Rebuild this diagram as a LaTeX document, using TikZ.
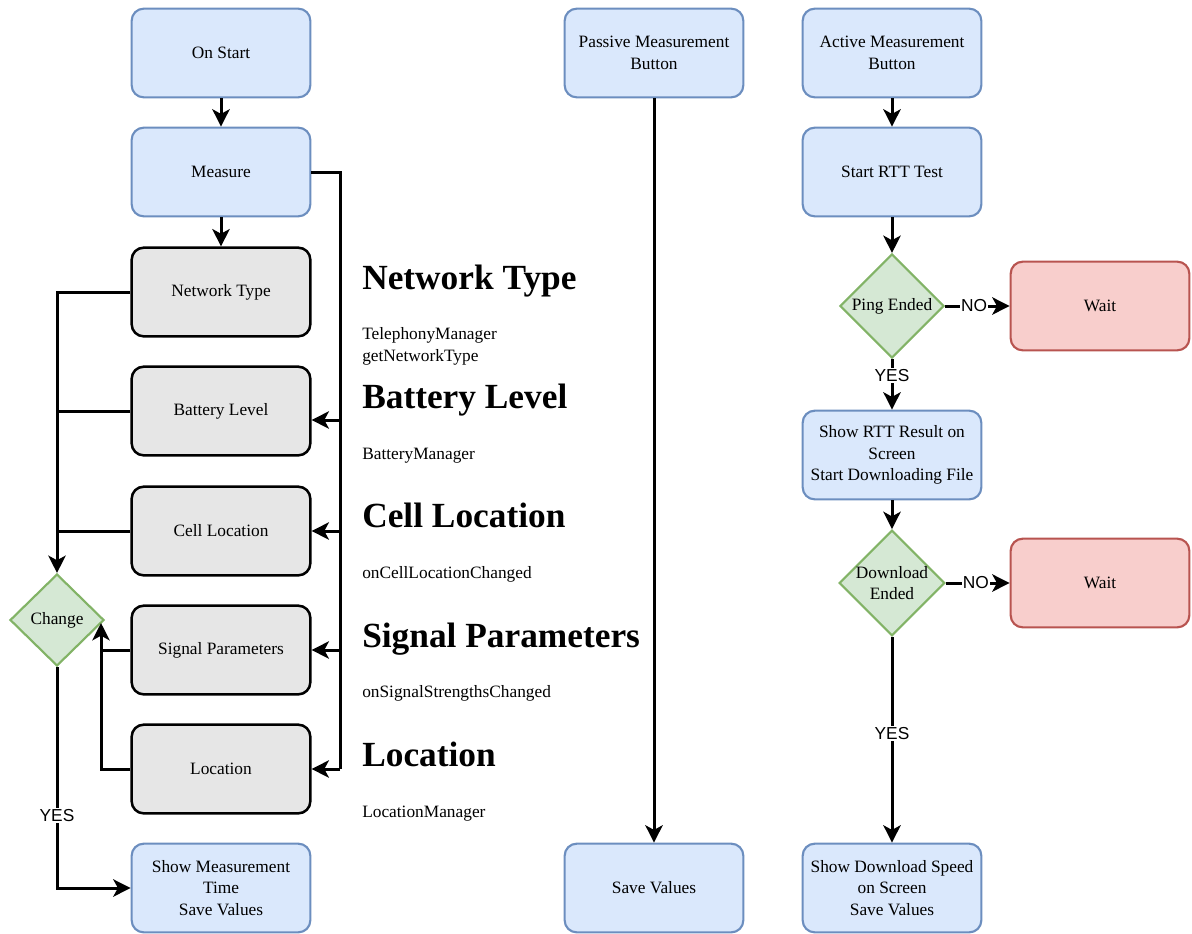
\documentclass[tikz,border=0pt]{standalone}
\usepackage{fontspec}
\setmainfont{Liberation Serif}
\newfontfamily\labfont{Liberation Sans}
\usetikzlibrary{shapes.geometric,arrows.meta}
\definecolor{bluefill}{HTML}{DAE8FC}
\definecolor{blueedge}{HTML}{6C8EBF}
\definecolor{grayfill}{HTML}{E6E6E6}
\definecolor{greenfill}{HTML}{D5E8D4}
\definecolor{greenedge}{HTML}{82B366}
\definecolor{redfill}{HTML}{F8CECC}
\definecolor{rededge}{HTML}{B85450}
\begin{document}
\begin{tikzpicture}[x=0.75pt,y=-0.75pt,
 box/.style={rounded corners=9pt, minimum width=134pt, minimum height=66.5pt, line width=1.6pt, align=center, font=\fontsize{13}{16}\selectfont, inner sep=2pt},
 bluebox/.style={box, draw=blueedge, fill=bluefill},
 graybox/.style={box, draw=black, fill=grayfill, line width=1.9pt},
 redbox/.style={box, draw=rededge, fill=redfill},
 dec/.style={diamond, draw=greenedge, fill=greenfill, line width=1.6pt, inner sep=0pt, align=center, font=\fontsize{13}{16}\selectfont},
 conn/.style={line width=2.25pt, -{Stealth[length=13pt,width=13pt,inset=3.5pt]}},
 wire/.style={line width=2.25pt},
 lab/.style={font=\labfont\fontsize{13}{15}\selectfont, fill=white, inner sep=1pt},
 head/.style={font=\bfseries\fontsize{26.5}{30}\selectfont, anchor=base west, inner sep=0pt},
 sub/.style={font=\fontsize{13}{16}\selectfont, anchor=base west, inner sep=0pt}
]
\useasboundingbox (0,0) rectangle (1192,933);

% left column
\node[bluebox] (start) at (221,53) {On Start};
\node[bluebox] (measure) at (221,172) {Measure};
\node[graybox] (nt) at (221,292) {Network Type};
\node[graybox] (bl) at (221,411) {Battery Level};
\node[graybox] (cl) at (221,531) {Cell Location};
\node[graybox] (sp) at (221,650) {Signal Parameters};
\node[graybox] (loc) at (221,769) {Location};
\node[bluebox] (show) at (221,888) {Show Measurement\\Time\\Save Values};
\node[dec, minimum width=70.5pt, minimum height=69pt] (change) at (57,620) {Change};

\draw[conn] (start) -- (measure);
\draw[conn] (measure) -- (nt);

\coordinate (rt) at (340,172);
\coordinate (rb) at (340,769);
\draw[wire] (measure.east) -- (rt) -- (rb);
\draw[conn] (rb) -- (loc.east);
\coordinate (blin) at ([yshift=-6.75pt]bl.east);
\draw[conn] (rt |- blin) -- (blin);
\draw[conn] (rt |- cl.east) -- (cl.east);
\draw[conn] (rt |- sp.east) -- (sp.east);

\coordinate (lt) at (57,292);
\draw[conn] (nt.west) -- (lt) -- (change.north);
\draw[wire] (bl.west) -- (lt |- bl.west);
\draw[wire] (cl.west) -- (lt |- cl.west);

\coordinate (lb) at (101,769);
\coordinate (chin) at (101,623);
\draw[wire] (sp.west) -- (lb |- sp.west);
\draw[conn] (loc.west) -- (lb) -- (chin);

\draw[conn] (change.south) |- (show.west) node[lab, pos=0.335] {YES};

% headings
\node[head] (h1) at (362,289) {Network Type};
\node[sub] (s1a) at (362,339) {TelephonyManager};
\node[sub] (s1b) at (362,361) {getNetworkType};
\node[head] (h2) at (362,408) {Battery Level};
\node[sub] (s2) at (362,459) {BatteryManager};
\node[head] (h3) at (362,527) {Cell Location};
\node[sub] (s3) at (362,578) {onCellLocationChanged};
\node[head] (h4) at (362,647) {Signal Parameters};
\node[sub] (s4) at (362,697) {onSignalStrengthsChanged};
\node[head] (h5) at (362,766) {Location};
\node[sub] (s5) at (362,817) {LocationManager};

% middle column
\node[bluebox] (pmb) at (654,53) {Passive Measurement\\Button};
\node[bluebox] (sv) at (654,888) {Save Values};
\draw[conn] (pmb) -- (sv);

% right column
\node[bluebox] (amb) at (892,53) {Active Measurement\\Button};
\node[bluebox] (rtt) at (892,172) {Start RTT Test};
\node[dec, minimum width=78pt, minimum height=78pt] (ping) at (892,306) {Ping Ended};
\node[redbox] (w1) at (1100,306) {Wait};
\node[bluebox] (res) at (892,455) {Show RTT Result on\\Screen\\Start Downloading File};
\node[dec, minimum width=78pt, minimum height=78pt] (dl) at (892,583) {Download\\Ended};
\node[redbox] (w2) at (1100,583) {Wait};
\node[bluebox] (dsp) at (892,888) {Show Download Speed\\on Screen\\Save Values};

\draw[conn] (amb) -- (rtt);
\draw[conn] (rtt) -- (ping);
\draw[conn] (ping) -- (w1) node[lab, pos=0.45] {NO};
\draw[conn] (ping) -- (res) node[lab, pos=0.33] {YES};
\draw[conn] (res) -- (dl);
\draw[conn] (dl) -- (w2) node[lab, pos=0.47] {NO};
\draw[conn] (dl) -- (dsp) node[lab, pos=0.47] {YES};
\end{tikzpicture}
\end{document}
